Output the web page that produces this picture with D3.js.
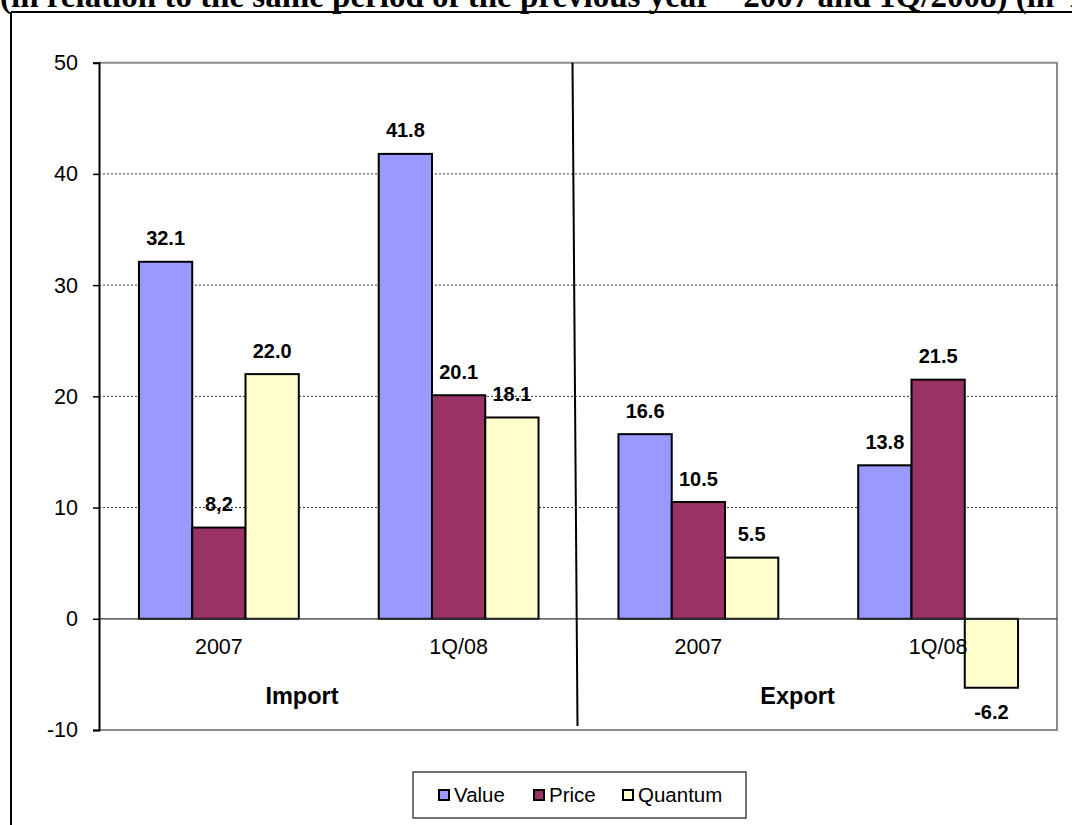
<!DOCTYPE html>
<html>
<head>
<meta charset="utf-8">
<script src="https://cdn.jsdelivr.net/npm/d3@7/dist/d3.min.js"></script>
<style>
  html, body { margin: 0; padding: 0; background: #fff; }
  svg { display: block; }
  text { font-family: "Liberation Sans", Arial, sans-serif; fill: #000; }
</style>
</head>
<body>
<svg id="chart" width="1072" height="825"></svg>
<script>
// Year-on-year change of import and export (value, price, quantum), in %
const categories = ["Import 2007", "Import 1Q/08", "Export 2007", "Export 1Q/08"];
const categoryLabels = ["2007", "1Q/08", "2007", "1Q/08"];
const groups = ["Import", "Export"];
const seriesNames = ["Value", "Price", "Quantum"];
const valueSeries = [32.1, 41.8, 16.6, 13.8];
const priceSeries = [8.2, 20.1, 10.5, 21.5];
const quantumSeries = [22.0, 18.1, 5.5, -6.2];
const priceLabels = ["8,2", "20.1", "10.5", "21.5"];
const yTicks = [-10, 0, 10, 20, 30, 40, 50];
const titleText = "(in relation to the same period of the previous year \u2013 2007 and 1Q/2008) (in %)";

const colors = { Value: "#9999FF", Price: "#993366", Quantum: "#FFFFCC" };
// plain hyphen-minus for negative numbers
const locale = d3.formatLocale({ decimal: ".", thousands: ",", grouping: [3], currency: ["", ""], minus: "-" });
const fmt = locale.format(".1f");
const tickFmt = locale.format("d");

const seriesData = [
  { name: "Value", values: valueSeries, labels: valueSeries.map(fmt) },
  { name: "Price", values: priceSeries, labels: priceLabels },
  { name: "Quantum", values: quantumSeries, labels: quantumSeries.map(fmt) }
];

const svg = d3.select("#chart");

// Title (runs past the top and right edges of the page)
svg.append("text")
  .attr("x", 0).attr("y", 7)
  .style("font-family", "'Liberation Serif', 'Times New Roman', serif")
  .style("font-weight", "bold")
  .style("font-size", "33px")
  .text(titleText);

// Outer frame: top and left edges
svg.append("line").attr("x1", 11).attr("x2", 1072).attr("y1", 12).attr("y2", 12)
  .attr("stroke", "#000").attr("stroke-width", 2);
svg.append("line").attr("x1", 11).attr("x2", 11).attr("y1", 12).attr("y2", 825)
  .attr("stroke", "#000").attr("stroke-width", 2);

const plot = { left: 99, right: 1058, top: 62.7, bottom: 730 };

const x = d3.scaleBand().domain(categories).range([plot.left, plot.right]).padding(0);
const xs = d3.scaleBand().domain(seriesNames)
  .range([x.bandwidth() / 6, x.bandwidth() * 5 / 6]).padding(0);
const y = d3.scaleLinear().domain([-10, 50]).range([plot.bottom, plot.top]);

// Plot area border (grey) on top, right and bottom
svg.append("path")
  .attr("d", `M${plot.left},${y(50)}H${plot.right - 1}V${y(-10)}H${plot.left}`)
  .attr("fill", "none").attr("stroke", "#8c8c8c").attr("stroke-width", 2);

// Dashed gridlines
svg.append("g").selectAll("line")
  .data(yTicks.filter(t => t > 0 && t < 50))
  .join("line")
  .attr("x1", plot.left).attr("x2", plot.right - 1)
  .attr("y1", d => y(d)).attr("y2", d => y(d))
  .attr("stroke", "#333").attr("stroke-width", 1)
  .attr("stroke-dasharray", "2,2");

// Bars
const gBars = svg.append("g");
seriesData.forEach(s => {
  gBars.selectAll(null)
    .data(categories.map((c, i) => ({ c, v: s.values[i] })))
    .join("rect")
    .attr("x", d => x(d.c) + xs(s.name))
    .attr("width", xs.bandwidth())
    .attr("y", d => y(Math.max(0, d.v)))
    .attr("height", d => Math.abs(y(d.v) - y(0)))
    .attr("fill", colors[s.name])
    .attr("stroke", "#000").attr("stroke-width", 2);
});

// Zero line
svg.append("line")
  .attr("x1", plot.left).attr("x2", plot.right - 1)
  .attr("y1", y(0)).attr("y2", y(0))
  .attr("stroke", "#333").attr("stroke-width", 1.2);

// Y axis
const yAxis = svg.append("g")
  .attr("transform", `translate(${plot.left},0)`)
  .call(d3.axisLeft(y).tickValues(yTicks).tickSize(6).tickPadding(15).tickFormat(tickFmt));
yAxis.select(".domain").attr("stroke", "#000").attr("stroke-width", 2);
yAxis.selectAll(".tick line").attr("stroke", "#000").attr("stroke-width", 1.5);
yAxis.selectAll(".tick text")
  .style("font-family", "'Liberation Sans', Arial, sans-serif")
  .style("font-size", "21.5px").attr("fill", "#000");

// Divider between Import and Export
svg.append("line")
  .attr("x1", 572.5).attr("y1", y(50))
  .attr("x2", 577.5).attr("y2", 726)
  .attr("stroke", "#000").attr("stroke-width", 2);

// Category labels
svg.append("g").selectAll("text")
  .data(categories)
  .join("text")
  .attr("x", d => x(d) + x.bandwidth() / 2)
  .attr("y", 654)
  .attr("text-anchor", "middle")
  .style("font-size", "21.5px")
  .text((d, i) => categoryLabels[i]);

// Group labels
const groupX = [302, 797.5];
svg.append("g").selectAll("text")
  .data(groups)
  .join("text")
  .attr("x", (d, i) => groupX[i])
  .attr("y", 704)
  .attr("text-anchor", "middle")
  .style("font-size", "23.5px").style("font-weight", "bold")
  .text(d => d);

// Data labels
const gLabels = svg.append("g");
seriesData.forEach(s => {
  gLabels.selectAll(null)
    .data(categories.map((c, i) => ({ c, v: s.values[i], t: s.labels[i] })))
    .join("text")
    .attr("x", d => x(d.c) + xs(s.name) + xs.bandwidth() / 2)
    .attr("y", d => d.v >= 0 ? y(d.v) - 16.5 : y(d.v) + 31)
    .attr("text-anchor", "middle")
    .style("font-size", "20px").style("font-weight", "bold")
    .text(d => d.t);
});

// Legend
const legend = svg.append("g");
legend.append("rect")
  .attr("x", 413).attr("y", 772).attr("width", 333).attr("height", 46)
  .attr("fill", "#fff").attr("stroke", "#444").attr("stroke-width", 1.5);
const legendX = [439, 534, 623];
seriesNames.forEach((n, i) => {
  legend.append("rect")
    .attr("x", legendX[i]).attr("y", 790).attr("width", 10).attr("height", 10)
    .attr("fill", colors[n]).attr("stroke", "#000").attr("stroke-width", 2);
  legend.append("text")
    .attr("x", legendX[i] + 15).attr("y", 802)
    .style("font-size", "20.5px")
    .text(n);
});
</script>
</body>
</html>
